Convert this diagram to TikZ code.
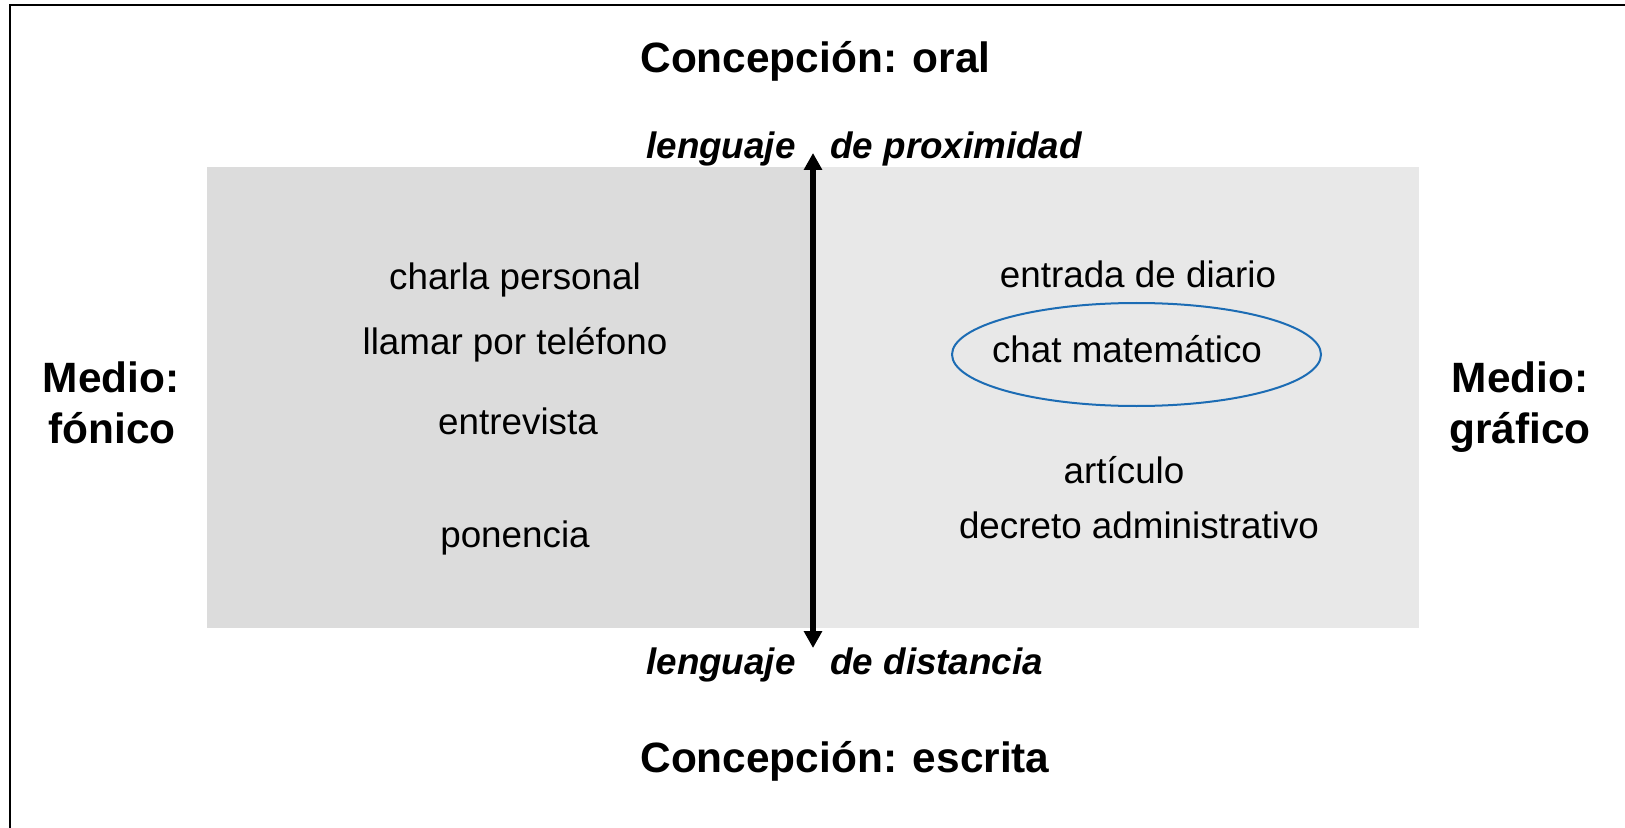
\documentclass[tikz,border=0pt]{standalone}
\usepackage{fontspec}
\setmainfont{Liberation Sans}
\usetikzlibrary{arrows.meta,shapes.geometric}

\definecolor{fonicogray}{RGB}{220,220,220}
\definecolor{graficogray}{RGB}{232,232,232}
\definecolor{chatblue}{RGB}{28,108,180}

\begin{document}
\begin{tikzpicture}[x=0.5pt, y=-0.5pt,
	heading/.style={font=\fontsize{21.2}{25}\selectfont\bfseries, inner sep=0pt, anchor=base},
	lengua/.style={font=\fontsize{18.4}{22}\selectfont\bfseries\itshape, inner sep=0pt},
	genre/.style={font=\fontsize{18.4}{22}\selectfont, inner sep=0pt, anchor=base},
	axis/.style={line width=3.4pt, {Triangle[length=8.5pt,width=8.8pt]}-{Triangle[length=8.5pt,width=8.8pt]}}]
	\useasboundingbox (0,0) rectangle (1625,828);
	\draw[line width=1pt] (10,828) -- (10,5) -- (1625,5);

	\fill[fonicogray] (207,167) rectangle (811,628);
	\fill[graficogray] (811,167) rectangle (1419,628);

	\node[heading, anchor=base west] (oral) at (640,73) {Concepción: oral};
	\node[heading, anchor=base west] (escrita) at (640,772) {Concepción: escrita};

	\node[heading] (medioF) at (111,392) {Medio:};
	\node[heading] (fonico) at (112,443) {fónico};
	\node[heading] (medioG) at (1520,392) {Medio:};
	\node[heading] (grafico) at (1520,443) {gráfico};

	\node[lengua, anchor=base east] (lengP) at (796,159) {lenguaje};
	\node[lengua, anchor=base west] (prox) at (830,159) {de proximidad};
	\node[lengua, anchor=base east] (lengD) at (796,674) {lenguaje};
	\node[lengua, anchor=base west] (dist) at (830,674) {de distancia};

	\node[genre] (charla) at (515,290) {charla personal};
	\node[genre] (llamar) at (515,354) {llamar por teléfono};
	\node[genre] (entrev) at (518,434) {entrevista};
	\node[genre] (ponen) at (515,547) {ponencia};

	\node[genre] (diario) at (1138,288) {entrada de diario};
	\node[genre] (chat) at (1127,362) {chat matemático};
	\node[genre] (artic) at (1124,483) {artículo};
	\node[genre] (decreto) at (1139,538) {decreto administrativo};

	\node[draw=chatblue, ellipse, line width=1pt, inner sep=0pt,
		minimum width=184.5pt, minimum height=51.5pt] (chatring) at (1136.5,354.5) {};

	\coordinate (top) at (813,153);
	\coordinate (bottom) at (813,648);
	\draw[axis] (top) -- (bottom);
\end{tikzpicture}
\end{document}
